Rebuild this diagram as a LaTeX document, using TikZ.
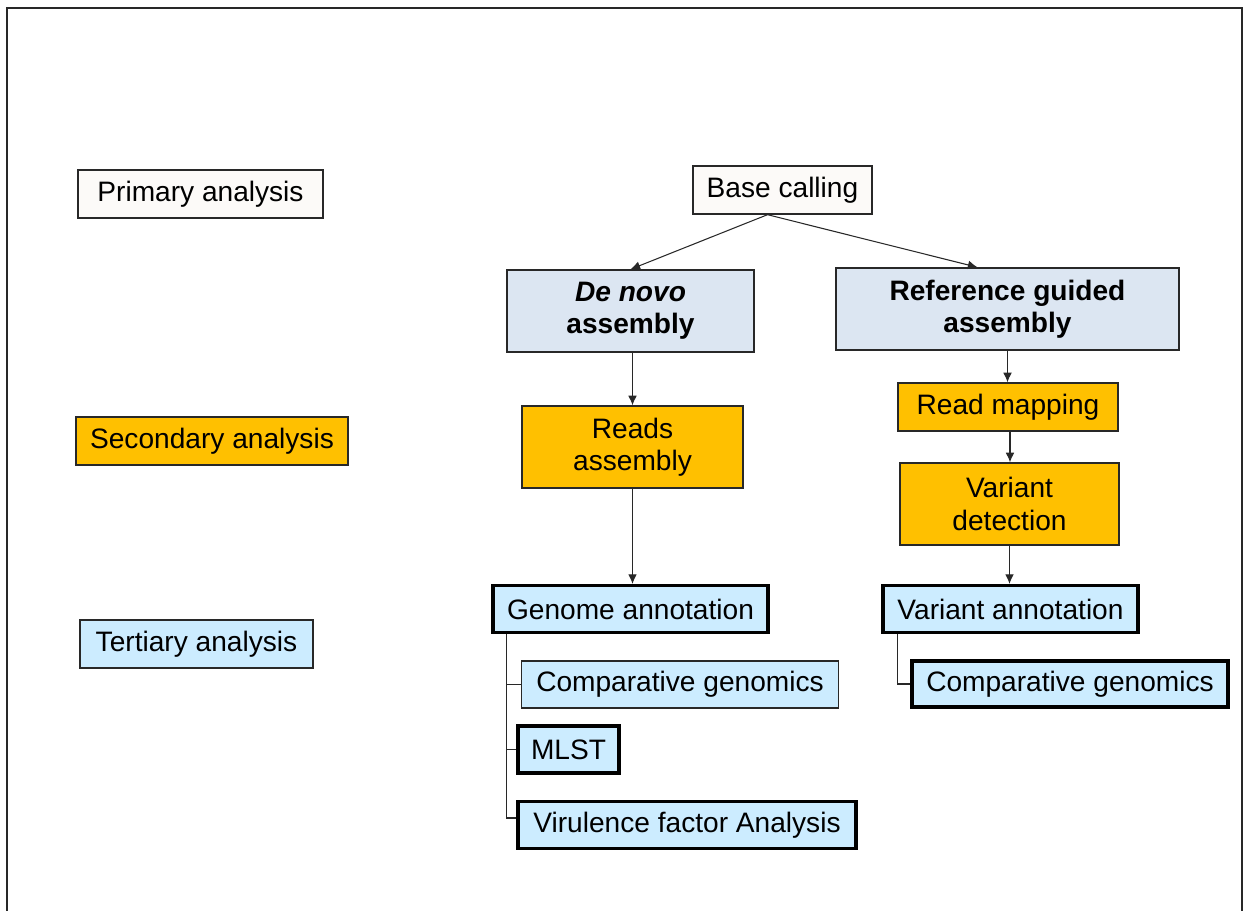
\documentclass[tikz,border=0pt]{standalone}
\usepackage{fontspec}
\setmainfont{Liberation Sans}
\usepackage{tikz}
\usetikzlibrary{arrows.meta,positioning,calc}
\definecolor{PaperColor}{RGB}{252,250,248}
\definecolor{GoldColor}{RGB}{255,192,0}
\definecolor{SteelColor}{RGB}{220,230,242}
\definecolor{SkyColor}{RGB}{204,236,255}
\definecolor{EdgeColor}{RGB}{40,40,40}
\tikzset{
  wgsbox/.style={draw=EdgeColor, line width=0.8pt, inner sep=2pt, align=center,
    font=\fontsize{16}{18.4}\selectfont},
  wgsthick/.style={wgsbox, draw=black, line width=1.8pt},
  wgsarrow/.style={->, line width=0.6pt, draw=EdgeColor},
  wgsline/.style={line width=0.6pt, draw=EdgeColor},
}

\begin{document}
\begin{tikzpicture}[>={Latex[length=5.5pt,width=5pt]}, x=0.02cm, y=-0.02cm]
      \useasboundingbox (0,0) rectangle (1248,911);
      \draw[line width=0.8pt, draw=EdgeColor] (7,911) -- (7,8) -- (1242,8) -- (1242,911);

      % analysis levels
      \node[wgsbox, fill=PaperColor, minimum width=4.9cm, minimum height=0.96cm] (prim) at (200.5,194) {Primary analysis};
      \node[wgsbox, fill=GoldColor, minimum width=5.44cm, minimum height=0.96cm] (sec) at (212,441) {Secondary analysis};
      \node[wgsbox, fill=SkyColor, minimum width=4.66cm, minimum height=0.96cm] (tert) at (196.5,644) {Tertiary analysis};

      % pipeline
      \node[wgsbox, fill=PaperColor, minimum width=3.58cm, minimum height=0.96cm] (base) at (782.5,190) {Base calling};
      \node[wgsbox, fill=SteelColor, font=\fontsize{16}{18.4}\selectfont\bfseries, minimum width=4.94cm, minimum height=1.64cm] (denovo) at (630.5,311) {\textit{De novo}\\assembly};
      \node[wgsbox, fill=SteelColor, font=\fontsize{16}{18.4}\selectfont\bfseries, minimum width=6.86cm, minimum height=1.64cm] (refg) at (1007.5,309) {Reference guided\\assembly};
      \node[wgsbox, fill=GoldColor, minimum width=4.42cm, minimum height=1.64cm] (reads) at (632.5,447) {Reads\\assembly};
      \node[wgsbox, fill=GoldColor, minimum width=4.4cm, minimum height=0.96cm] (rmap) at (1008,407) {Read mapping};
      \node[wgsbox, fill=GoldColor, minimum width=4.38cm, minimum height=1.64cm] (vdet) at (1009.5,504) {Variant\\detection};
      \node[wgsthick, fill=SkyColor, minimum width=5.5cm, minimum height=0.94cm] (gann) at (630.5,609) {Genome annotation};
      \node[wgsthick, fill=SkyColor, minimum width=5.1cm, minimum height=0.94cm] (vann) at (1010.5,609) {Variant annotation};
      \node[wgsbox, fill=SkyColor, minimum width=6.34cm, minimum height=0.94cm] (cgl) at (680,684.5) {Comparative genomics};
      \node[wgsthick, fill=SkyColor, minimum width=2.02cm, minimum height=0.94cm] (mlst) at (568.5,749.5) {MLST};
      \node[wgsthick, fill=SkyColor, minimum width=6.76cm, minimum height=0.94cm] (vir) at (687,825) {Virulence factor Analysis};
      \node[wgsthick, fill=SkyColor, minimum width=6.32cm, minimum height=0.92cm] (cgr) at (1070,684) {Comparative genomics};

      \draw[wgsarrow] ([xshift=-0.3cm]base.south) -- (denovo.north);
      \draw[wgsarrow] ([xshift=-0.3cm]base.south) -- ([xshift=-0.6cm]refg.north);
      \draw[wgsarrow] (denovo.south -| reads.north) -- (reads.north);
      \draw[wgsarrow] (reads.south) -- (reads.south |- gann.north);
      \draw[wgsarrow] (refg.south) -- (refg.south |- rmap.north);
      \draw[wgsarrow] ([xshift=0.04cm]rmap.south) -- ([xshift=0.04cm]rmap.south |- vdet.north);
      \draw[wgsarrow] (vdet.south) -- (vdet.south |- vann.north);

      \draw[wgsline] ([xshift=0.3cm]gann.south west) |- (cgl.west);
      \draw[wgsline] ([xshift=0.3cm]gann.south west) |- (mlst.west);
      \draw[wgsline] ([xshift=0.3cm]gann.south west) |- ([yshift=0.14cm]vir.west);
      \draw[wgsline] ([xshift=0.32cm]vann.south west) |- (cgr.west);
    \end{tikzpicture}
\end{document}
